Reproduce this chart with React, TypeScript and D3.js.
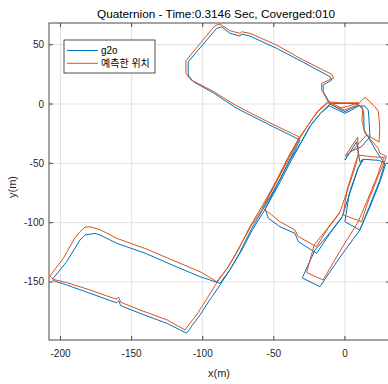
import React from 'react';
import * as d3 from 'd3';

// axes box (pixels) - right edge sits just outside the picture like the original
const W = 388;
const H = 384;
const box = { left: 49, top: 23, right: 390, bottom: 340 };

const xTicks = [-200, -150, -100, -50, 0];
const yTicks = [-150, -100, -50, 0, 50];
const xLimits = [-208.1, 31.7];
const yLimits = [-198.9, 68.3];

const titleText = 'Quaternion - Time:0.3146 Sec, Coverged:010';
const legendLabels = ['g2o', '예측한 위치'];
const seriesColors = ['#0072BD', '#D95319'];

// g2o trajectory (x, y in metres)
const g2oPath: [number, number][] = [
  [10, 0.5], [-2, 0.5], [-10.5, 0.6],
  [-15.3, 10.4], [-15.3, 16.0], [-9.3, 20.2], [-10.5, 23.0], [-29, 35], [-48.0, 46.9], [-66.8, 57.3],
  [-72.6, 59.0], [-73.8, 57.3], [-80.8, 59.6], [-86.7, 65.1], [-90.2, 63.8], [-110.2, 35.6],
  [-110.2, 24.4], [-106.6, 18.8], [-92, 9], [-76.1, -3.6], [-54, -17], [-31.6, -30.3],
  [-38, -45], [-45.7, -63.7], [-57.7, -88.9], [-66, -106], [-73.9, -125.2], [-81, -140], [-87.9, -151.1],
  [-101.9, -145.5], [-116, -138.5], [-140, -126], [-160.5, -117.4], [-172.2, -110.4], [-175.7, -109.0],
  [-182.8, -110.4], [-186.3, -114.6], [-195.7, -132.9], [-205.1, -146.9],
  [-205.1, -148.9], [-195.7, -152.5], [-179.3, -159.5], [-162.9, -166.6], [-160.5, -167.5], [-159, -165.8],
  [-157.7, -170], [-144.1, -176.4], [-125, -185], [-111.3, -193.2],
  [-107, -186], [-101.9, -177.8], [-95, -165], [-87.5, -152],
  [-80, -138], [-72.5, -123], [-65, -106], [-56.5, -89.5], [-45, -64.5], [-37.5, -47], [-31, -33],
  [-24, -18], [-17.6, -8.4], [-11, -1.5],
  [-5, -5], [0, -7.8], [4.7, -5.1], [9.3, -1.7], [14.1, -1.7], [16.4, -5.1], [17.1, -16.3], [17.6, -27.6],
  [11.7, -36.0], [3.5, -40.2], [0, -47.2], [8.2, -31.8], [10.5, -48.6], [12.9, -47],
  [9.4, -54], [3.5, -75], [-2, -95], [-10.5, -108.5], [-21, -123], [-30, -146.5], [-17.6, -154],
  [-4, -130], [10.5, -106.2], [17, -87], [24.6, -64], [28, -50], [24, -47.5], [12.5, -46.5],
  [9, -54.5], [3, -75.5], [0, -99.2], [10.5, -106.2], [17.5, -87], [25, -64.5], [28.5, -51],
  [22.3, -40.2], [17.6, -30.3], [13.5, -22], [13.2, -6], [10, -0.8], [4, -4], [0, -6.5], [-5, -3.5], [-10.5, 0],
  [-17, -7.5], [-24.5, -18.5], [-30.5, -31.5], [-38, -46], [-45.5, -63], [-56.2, -88.5],
  [-53.9, -96.3], [-45.7, -103.4], [-35.1, -109.0], [-32.8, -116.0], [-19.9, -125.8], [-10.5, -109], [-2, -95.5],
];

// predicted position trajectory
const predPath: [number, number][] = [
  [10, 1.0], [-3, 1.0], [-11.7, 1.9],
  [-16.4, 11.8], [-16.4, 17.4], [-8.0, 22.0], [-9.2, 25.0], [-30, 37.5], [-48, 49.7], [-66.8, 59.6],
  [-72.6, 60.9], [-73.8, 59.6], [-80.8, 61.8], [-87.9, 67.4], [-91.5, 66.0], [-111.8, 36.5],
  [-111.8, 25.9], [-108.5, 20.5], [-93, 11], [-77, -1], [-55, -14.5], [-31.6, -28.1],
  [-39, -43], [-47, -62.5], [-59, -87.5], [-67.5, -105], [-75.3, -123.5], [-82.5, -138.5], [-90.2, -149.7],
  [-101.9, -141.3], [-116, -134.2], [-140, -122], [-160.5, -113.2], [-172, -106], [-179.3, -103.4],
  [-183, -104], [-186.3, -107.6], [-190, -113], [-198, -130], [-207.4, -144.9],
  [-205.1, -147.8], [-195.7, -150.5], [-179.3, -156.7], [-162.9, -163.7], [-160.5, -164.5], [-159, -162.8],
  [-157.7, -167], [-144.1, -173.6], [-125, -182], [-112.5, -190.4],
  [-108.5, -184], [-104.3, -177.8], [-97, -164], [-90, -150.5],
  [-82, -137], [-74.5, -121.5], [-66.5, -104], [-57.5, -87], [-46.5, -62], [-39, -45], [-32.5, -30.5],
  [-25, -16], [-19, -6.5], [-12, 1],
  [-6, -2.5], [0, -5.1], [6, -2], [10, 0.8], [14.1, 5.6], [17.6, 1.9], [21.1, -2.3], [23.5, -6],
  [24.5, -20], [24, -32], [15.3, -26.1], [5.6, -38.8], [0, -44], [9, -28], [9.3, -43],
  [7.5, -52], [2, -72], [-3.5, -91], [-12, -104.5], [-21.5, -118.5], [-27, -142], [-15.3, -148.3],
  [-4, -125], [9, -100], [15.5, -82], [23, -60], [27, -46], [28.1, -45], [20, -44.5], [9.3, -43],
  [7, -51], [1.5, -72.5], [-1.2, -93.5], [11.7, -99.2], [16, -83], [23.5, -60.5], [29.3, -44.2],
  [24.6, -41.5], [23.4, -37.3], [14.1, -24.7], [12, -14], [12.5, -3], [8, 0.5], [2, -2], [-3, -3], [-12, 2],
  [-19.5, -6.5], [-25.5, -17], [-32.5, -29], [-39.5, -44], [-47, -61.5], [-57.8, -87.5],
  [-56.2, -89.3], [-51.5, -93.5], [-45.7, -99.2], [-35.1, -106.2], [-32.8, -111.8], [-19.9, -120.2],
  [-12, -105], [-3.5, -91.5],
];

const font = '"Liberation Sans", Arial, Helvetica, sans-serif';
const axisColor = '#4a4a4a';

export default function App() {
  const x = d3.scaleLinear().domain(xLimits).range([box.left, box.right]);
  const y = d3.scaleLinear().domain(yLimits).range([box.bottom, box.top]);

  const line = d3.line<[number, number]>()
    .x((d) => x(d[0]))
    .y((d) => y(d[1]));

  return (
    <svg width={W} height={H} style={{ position: 'absolute', left: 0, top: 0, background: '#fff' }}
      fontFamily={font}>
      <defs>
        <clipPath id="plot-clip">
          <rect x={box.left} y={box.top} width={box.right - box.left} height={box.bottom - box.top} />
        </clipPath>
      </defs>

      {/* grid */}
      {xTicks.map((t) => (
        <line key={'gx' + t} x1={x(t)} x2={x(t)} y1={box.top} y2={box.bottom} stroke="#e2e2e2" strokeWidth={1} />
      ))}
      {yTicks.map((t) => (
        <line key={'gy' + t} x1={box.left} x2={box.right} y1={y(t)} y2={y(t)} stroke="#e2e2e2" strokeWidth={1} />
      ))}

      {/* trajectories */}
      <g clipPath="url(#plot-clip)" fill="none" strokeWidth={1} strokeLinejoin="round">
        <path d={line(g2oPath) || ''} stroke={seriesColors[0]} />
        <path d={line(predPath) || ''} stroke={seriesColors[1]} />
      </g>

      {/* box + ticks */}
      <rect x={box.left} y={box.top} width={box.right - box.left} height={box.bottom - box.top}
        fill="none" stroke={axisColor} strokeWidth={1} />
      {xTicks.map((t) => (
        <g key={'tx' + t}>
          <line x1={x(t)} x2={x(t)} y1={box.bottom} y2={box.bottom - 4} stroke={axisColor} />
          <line x1={x(t)} x2={x(t)} y1={box.top} y2={box.top + 4} stroke={axisColor} />
          <text x={x(t)} y={357} textAnchor="middle" fontSize={10} fill="#262626">{t}</text>
        </g>
      ))}
      {yTicks.map((t) => (
        <g key={'ty' + t}>
          <line x1={box.left} x2={box.left + 4} y1={y(t)} y2={y(t)} stroke={axisColor} />
          <line x1={box.right} x2={box.right - 4} y1={y(t)} y2={y(t)} stroke={axisColor} />
          <text x={44} y={y(t) + 3.5} textAnchor="end" fontSize={10} fill="#262626">{t}</text>
        </g>
      ))}

      {/* labels */}
      <text x={216} y={18} textAnchor="middle" fontSize={11.8} fill="#000">{titleText}</text>
      <text x={219} y={377} textAnchor="middle" fontSize={11} fill="#262626">x(m)</text>
      <text transform={`translate(16, 187) rotate(-90)`} textAnchor="middle" fontSize={11} fill="#262626">y(m)</text>

      {/* legend */}
      <rect x={64} y={40} width={91} height={33} fill="#fff" stroke="#262626" strokeWidth={0.8} />
      {legendLabels.map((label, i) => (
        <g key={label}>
          <line x1={67} x2={98} y1={50.5 + i * 12.8} y2={50.5 + i * 12.8} stroke={seriesColors[i]} strokeWidth={1} />
          <text x={101} y={50.5 + i * 12.8 + 3.5} fontSize={10} fill="#000"
            fontFamily={'"Liberation Sans", "Noto Sans CJK KR", sans-serif'}>{label}</text>
        </g>
      ))}
    </svg>
  );
}
